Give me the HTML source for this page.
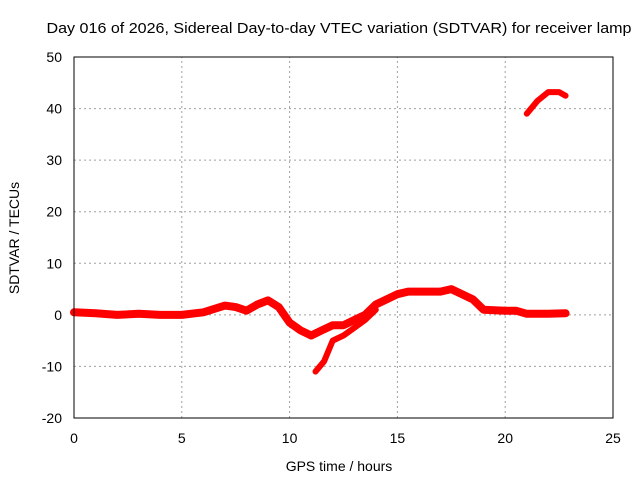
<!DOCTYPE html>
<html><head><meta charset="utf-8"><style>
body{margin:0;background:#fff}
svg{display:block;font-family:"Liberation Sans",sans-serif}
</style></head><body>
<svg id="c" width="640" height="480" viewBox="0 0 640 480">
<text x="339" y="33" font-size="15" text-anchor="middle" textLength="585" lengthAdjust="spacingAndGlyphs">Day 016 of 2026, Sidereal Day-to-day VTEC variation (SDTVAR) for receiver lamp</text>
<text x="339" y="471" font-size="14" text-anchor="middle">GPS time / hours</text>
<text transform="translate(19,238) rotate(-90)" font-size="14" text-anchor="middle">SDTVAR / TECUs</text>
<g id="grid"></g>
<g id="series"></g>
<rect x="74" y="57" width="539" height="361" fill="none" stroke="#000" stroke-width="1"/>
<g id="ticks"></g>
</svg>
<script>
const xTicks=[0,5,10,15,20,25];
const yTicks=[-20,-10,0,10,20,30,40,50];
const mainX=[0,1,2,3,4,5,6,7,7.5,8,8.5,9,9.5,10,10.5,11,11.5,12,12.5,13,13.5,14,14.5,15,15.5,16,17,17.5,18,18.5,19,20,20.5,21,22,22.8];
const mainY=[0.5,0.3,0,0.2,0,0,0.5,1.8,1.5,0.8,2,2.8,1.5,-1.5,-3,-4,-3,-2,-2,-1,0,2,3,4,4.5,4.5,4.5,5,4,3,1,0.8,0.8,0.2,0.2,0.3];
const lowX=[11.2,11.6,12,12.5,13,13.5,14];
const lowY=[-11,-9,-5,-4,-2.5,-1,1];
const upX=[21,21.5,22,22.5,22.8];
const upY=[39,41.5,43.2,43.2,42.5];
const X0=74,X1=613,Y0=418,Y1=57;
const sx=v=>X0+(v-0)/(25-0)*(X1-X0);
const sy=v=>Y0-(v+20)/70*(Y0-Y1);
const NS='http://www.w3.org/2000/svg';
const g=document.getElementById('grid'),t=document.getElementById('ticks'),s=document.getElementById('series');
function mk(tag,at,p){const e=document.createElementNS(NS,tag);for(const k in at)e.setAttribute(k,at[k]);p.appendChild(e);return e;}
xTicks.forEach(v=>{const x=sx(v);
 if(v>0&&v<25){const l=mk('line',{x1:x,x2:x,y1:Y0,y2:Y1,stroke:'#a0a0a0','stroke-dasharray':'2,3'},g);
 
 }
 const tk=mk('text',{x:x,y:443,'font-size':14,'text-anchor':'middle'},t);tk.textContent=v;
 
 });
yTicks.forEach(v=>{const y=sy(v);
 if(v>-20&&v<50){const l=mk('line',{x1:X0,x2:X1,y1:y,y2:y,stroke:'#a0a0a0','stroke-dasharray':'2,3'},g);
 
 }
 const tk=mk('text',{x:62,y:y+5,'font-size':14,'text-anchor':'end'},t);tk.textContent=v;
 
 });
function line(xs,ys,name,w){const d=xs.map((v,i)=>(i?'L':'M')+sx(v).toFixed(1)+','+sy(ys[i]).toFixed(1)).join('');
 const p=mk('path',{d:d,fill:'none',stroke:'#ff0000','stroke-width':w,'stroke-linejoin':'round','stroke-linecap':'round'},s);
 
 }
line(mainX,mainY,'series-main',8);
line(lowX,lowY,'series-lower-branch',6);
line(upX,upY,'series-upper-segment',6);
</script>
</body></html>
